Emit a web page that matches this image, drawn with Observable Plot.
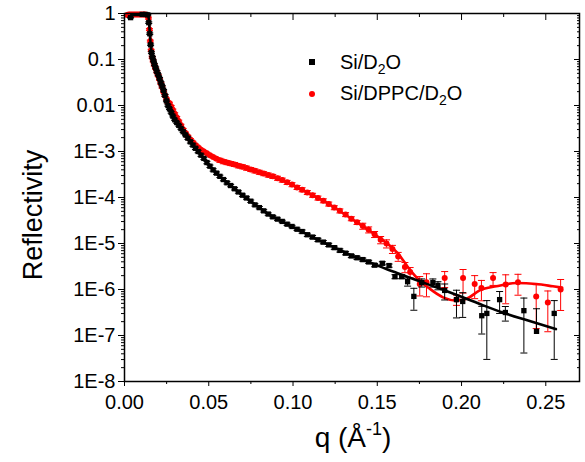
<!DOCTYPE html>
<html><head><meta charset="utf-8">
<script src="https://cdn.jsdelivr.net/npm/d3@7"></script>
<script src="https://cdn.jsdelivr.net/npm/@observablehq/plot@0.6"></script>
<style>body{margin:0;background:#fff} svg{display:block}</style>
</head><body><div id="chart"></div>
<script>
// ---- tick values / labels ----
const xMajor = [0, 0.05, 0.10, 0.15, 0.20, 0.25];
const xMinor = [0.025, 0.075, 0.125, 0.175, 0.225];
const yMajor = [1, 1e-1, 1e-2, 1e-3, 1e-4, 1e-5, 1e-6, 1e-7, 1e-8];
const yTickLabels = ["1", "0.1", "0.01", "1E-3", "1E-4", "1E-5", "1E-6", "1E-7", "1E-8"];
const yMinorMult = [2, 3, 4, 5, 6, 7, 8, 9];

// ---- Si/D2O data (q in 1/Å, log10 reflectivity, relative error) ----
const blackQ = [0.0036,0.0105,0.0125,0.0138,0.0144,0.0150,0.0155,0.0160,0.0166,0.0172,0.0178,0.0185,0.0192,0.0200,0.0208,0.0216,0.0224,0.0232,0.0240,0.0249,0.0258,0.0267,0.0277,0.0287,0.0298,0.0310,0.0322,0.0335,0.0348,0.0362,0.0376,0.0391,0.0406,0.0421,0.0437,0.0454,0.0471,0.0489,0.0507,0.0526,0.0546,0.0566,0.0587,0.0608,0.0630,0.0653,0.0676,0.0700,0.0724,0.0749,0.0774,0.0800,0.0826,0.0853,0.0880,0.0908,0.0936,0.0965,0.0994,0.1024,0.1054,0.1085,0.1116,0.1148,0.1180,0.1212,0.1245,0.1278,0.1312,0.1346,0.1380,0.1414,0.1449,0.1484,0.1530,0.1570,0.1605,0.1645,0.1680,0.1717,0.1764,0.1830,0.1860,0.1900,0.1970,0.2007,0.2120,0.2150,0.2226,0.2260,0.2370,0.2445,0.2550];
const blackLogR = [-0.09,-0.02,-0.02,-0.03,-0.2,-0.44,-0.68,-0.85,-0.95,-1.03,-1.11,-1.18,-1.26,-1.33,-1.41,-1.50,-1.58,-1.67,-1.78,-1.90,-2.0,-2.07,-2.15,-2.23,-2.31,-2.37,-2.43,-2.50,-2.57,-2.64,-2.71,-2.79,-2.86,-2.93,-3.0,-3.08,-3.15,-3.24,-3.32,-3.40,-3.47,-3.54,-3.61,-3.68,-3.74,-3.81,-3.88,-3.95,-4.01,-4.08,-4.16,-4.22,-4.29,-4.36,-4.42,-4.47,-4.52,-4.58,-4.63,-4.69,-4.74,-4.81,-4.86,-4.92,-4.97,-5.03,-5.09,-5.15,-5.21,-5.27,-5.31,-5.35,-5.40,-5.47,-5.43,-5.48,-5.72,-5.72,-5.83,-6.15,-5.85,-5.85,-5.91,-6.02,-6.22,-6.26,-6.57,-6.52,-6.22,-6.50,-6.46,-6.91,-6.52];
const blackErr = [0.02,0.02,0.02,0.02,
  0.04,0.04,0.04,0.04,0.04,0.04,0.04,0.04,0.04,0.04,0.04,0.04,0.04,0.04,0.04,0.04,0.04,0.04,0.04,0.04,0.04,0.04,0.04,0.04,0.04,0.04,
  0.06,0.06,0.06,0.06,0.06,0.06,0.06,0.06,0.06,0.06,0.06,0.06,0.06,0.06,0.06,0.06,0.06,0.06,0.06,0.06,0.06,0.06,0.06,0.06,0.06,0.06,0.06,0.06,0.06,0.06,
  0.08,0.08,0.08,0.08,0.08,0.08,0.08,0.08,0.08,0.08,0.08,0.08,0.08,0.08,0.08,0.08,
  0.1,0.1,0.2,0.5,0.2,0.2,0.2,0.38,0.6,0.55,0.6,0.9,0.5,0.35,0.88,2.1,0.9];
const blackFitQ = [0.004,0.013,0.0140,0.0145,0.0150,0.0155,0.016,0.017,0.0184,0.020,0.0213,0.023,0.0243,0.0258,0.0272,0.029,0.0314,0.0335,0.0362,0.0391,0.0421,0.0454,0.0489,0.0526,0.0566,0.0608,0.0653,0.070,0.0749,0.080,0.0853,0.0908,0.0965,0.1024,0.1085,0.1148,0.1212,0.1278,0.1346,0.1414,0.1484,0.155,0.1617,0.1735,0.187,0.2007,0.2125,0.2244,0.239,0.256];
const blackFitLogR = [-0.03,-0.03,-0.05,-0.14,-0.42,-0.66,-0.82,-1.0,-1.17,-1.33,-1.46,-1.65,-1.80,-1.97,-2.10,-2.24,-2.38,-2.50,-2.64,-2.79,-2.93,-3.08,-3.24,-3.40,-3.54,-3.68,-3.81,-3.95,-4.08,-4.22,-4.36,-4.47,-4.58,-4.69,-4.80,-4.92,-5.03,-5.14,-5.26,-5.36,-5.45,-5.55,-5.64,-5.80,-5.98,-6.17,-6.34,-6.5,-6.67,-6.86];

// ---- Si/DPPC/D2O data ----
const redQ = [0.0016,0.0025,0.0035,0.0045,0.0055,0.0065,0.0075,0.0085,0.0095,0.0105,0.0115,0.0125,0.0134,0.0142,0.0148,0.0153,0.0158,0.0164,0.0170,0.0177,0.0184,0.0192,0.0200,0.0208,0.0216,0.0223,0.0232,0.0240,0.0249,0.0258,0.0267,0.0277,0.0287,0.0298,0.0310,0.0322,0.0335,0.0348,0.0362,0.0376,0.0391,0.0406,0.0421,0.0437,0.0454,0.0471,0.0489,0.0507,0.0526,0.0546,0.0566,0.0587,0.0608,0.0630,0.0653,0.0676,0.0700,0.0724,0.0749,0.0774,0.0800,0.0826,0.0853,0.0880,0.0908,0.0936,0.0965,0.0994,0.1024,0.1054,0.1085,0.1116,0.1148,0.1180,0.1212,0.1245,0.1278,0.1312,0.1346,0.1380,0.1414,0.1449,0.1484,0.1520,0.1555,0.1590,0.1624,0.1664,0.1695,0.1752,0.1792,0.1900,0.1970,0.2009,0.2078,0.2118,0.2187,0.2262,0.2335,0.2443,0.2512,0.2588];
const redLogR = [-0.03,-0.02,-0.02,-0.02,-0.02,-0.02,-0.02,-0.02,-0.02,-0.02,-0.02,-0.02,-0.03,
  -0.1,-0.35,-0.6,-0.8,-0.95,-1.03,-1.12,-1.19,-1.27,-1.35,-1.43,-1.52,-1.60,-1.70,-1.78,-1.86,-1.93,-1.95,-2.02,-2.10,-2.18,-2.26,-2.34,-2.43,-2.52,-2.60,-2.67,-2.74,-2.80,-2.86,-2.91,-2.96,-3.0,-3.04,-3.08,-3.12,-3.16,-3.19,-3.22,-3.24,-3.26,-3.28,-3.31,-3.33,-3.36,-3.39,-3.42,-3.45,-3.48,-3.51,-3.54,-3.58,-3.62,-3.67,-3.72,-3.78,-3.83,-3.89,-3.95,-4.01,-4.07,-4.14,-4.22,-4.29,-4.37,-4.46,-4.54,-4.62,-4.70,-4.80,-4.92,-5.0,-5.12,-5.28,-5.51,-5.62,-5.88,-5.84,-5.75,-6.22,-5.75,-5.88,-5.97,-5.75,-5.89,-5.84,-6.15,-6.28,-6.0];
const redErr = [0.03,0.03,0.03,0.03,0.03,0.03,0.03,0.03,0.03,0.03,0.03,0.03,0.03,
  0.05,0.05,0.05,0.05,0.05,0.05,0.05,0.05,0.05,0.05,0.05,0.05,0.05,0.05,0.05,0.05,0.05,0.05,0.05,0.05,0.05,0.05,0.05,0.05,0.05,0.05,0.05,0.05,0.05,0.05,0.05,0.05,0.05,0.05,0.05,0.05,0.05,
  0.1,0.1,0.1,0.1,0.1,0.1,0.1,0.1,0.1,0.1,0.1,0.1,0.1,0.1,0.1,0.1,0.1,0.1,0.1,0.1,0.1,0.1,0.1,0.1,0.1,0.1,0.1,0.1,0.1,0.1,
  0.15,0.15,0.15,0.18,0.2,0.2,0.22,0.25,0.25,
  0.45,0.52,0.38,0.25,0.53,0.52,0.47,0.31,0.62,0.48,0.8,0.77,0.65];
const redFitQ = [0.002,0.0135,0.0142,0.0148,0.0155,0.016,0.017,0.0184,0.020,0.0223,0.025,0.0272,0.030,0.0325,0.0351,0.038,0.041,0.0469,0.0548,0.0647,0.0746,0.0845,0.0943,0.1022,0.1101,0.118,0.1259,0.1338,0.1417,0.1496,0.1575,0.1624,0.1664,0.170,0.175,0.181,0.189,0.197,0.203,0.2108,0.2207,0.2325,0.2443,0.2542,0.2597];
const redFitLogR = [-0.03,-0.03,-0.08,-0.3,-0.62,-0.8,-1.0,-1.17,-1.33,-1.58,-1.83,-2.0,-2.22,-2.40,-2.60,-2.74,-2.85,-3.01,-3.16,-3.28,-3.39,-3.50,-3.63,-3.77,-3.92,-4.07,-4.25,-4.44,-4.63,-4.83,-5.05,-5.22,-5.42,-5.60,-5.80,-5.98,-6.17,-6.24,-6.2,-6.02,-5.93,-5.86,-5.88,-5.93,-5.96];

// ---- build tables ----
const toRows = (Q, L, E) => Q.map((q, i) => {
  const r = Math.pow(10, L[i]); const d = r * E[i];
  return {q, r, hasLo: r - d > 0, lo: r - d > 0 ? r - d : r, hi: r + d};
});
const black = toRows(blackQ, blackLogR, blackErr);
const red = toRows(redQ, redLogR, redErr);
const blackFit = blackFitQ.map((q, i) => ({q, r: Math.pow(10, blackFitLogR[i])}));
const redFit = redFitQ.map((q, i) => ({q, r: Math.pow(10, redFitLogR[i])}));
const yMinor = [];
yMajor.slice(1).forEach(d => yMinorMult.forEach(m => yMinor.push(d * m)));

const capSym = {draw(ctx, size) { const w = Math.sqrt(size / Math.PI); ctx.moveTo(-w, 0); ctx.lineTo(w, 0); }};
const RED = "#ff0000";
const none = () => "";

function errMarks(rows, color) {
  return [
    Plot.ruleX(rows, {x: "q", y1: "lo", y2: "hi", stroke: color, strokeWidth: 1}),
    Plot.dot(rows, {x: "q", y: "hi", symbol: capSym, r: 3.5, stroke: color, strokeWidth: 1, fill: "none"}),
    Plot.dot(rows.filter(d => d.hasLo), {x: "q", y: "lo", symbol: capSym, r: 3.5, stroke: color, strokeWidth: 1, fill: "none"})
  ];
}

const chart = Plot.plot({
  width: 585, height: 462,
  marginLeft: 124, marginRight: 6, marginTop: 13, marginBottom: 81,
  style: {fontFamily: "'Liberation Sans', Arial, sans-serif", fontSize: "20px", color: "black", background: "white"},
  x: {domain: [0, 0.27]},
  y: {type: "log", domain: [1e-8, 1]},
  marks: [
    ...errMarks(red, RED),
    Plot.dot(red, {x: "q", y: "r", r: 3, fill: RED, stroke: "none"}),
    Plot.line(redFit, {x: "q", y: "r", stroke: RED, strokeWidth: 2.6, curve: "monotone-x"}),
    ...errMarks(black, "black"),
    Plot.dot(black, {x: "q", y: "r", symbol: "square", r: 3, fill: "black", stroke: "none"}),
    Plot.line(blackFit, {x: "q", y: "r", stroke: "black", strokeWidth: 2.6, curve: "monotone-x"}),
    Plot.axisX({anchor: "bottom", ticks: xMajor, tickSize: 5, tickPadding: 8, tickFormat: d3.format(".2f"), label: null, fontSize: 20}),
    Plot.axisX({anchor: "bottom", ticks: xMinor, tickSize: 3, tickFormat: none, label: null}),
    Plot.axisX({anchor: "top", ticks: xMajor, tickSize: -6, tickFormat: none, label: null}),
    Plot.axisX({anchor: "top", ticks: xMinor, tickSize: -3, tickFormat: none, label: null}),
    Plot.axisY({anchor: "left", ticks: yMajor, tickSize: 6, tickPadding: 3, tickFormat: (d, i) => yTickLabels[yMajor.indexOf(d)], label: null, fontSize: 20}),
    Plot.axisY({anchor: "left", ticks: yMinor, tickSize: 3, tickFormat: none, label: null}),
    Plot.axisY({anchor: "right", ticks: yMajor, tickSize: -6, tickFormat: none, label: null}),
    Plot.axisY({anchor: "right", ticks: yMinor, tickSize: -3, tickFormat: none, label: null}),
    Plot.frame({stroke: "black", strokeWidth: 1.5})
  ]
});
document.getElementById("chart").appendChild(chart);

// ---- labels and legend ----
const svg = d3.select(chart);
const font = "'Liberation Sans', Arial, sans-serif";
svg.append("text").attr("transform", "translate(42,215) rotate(-90)").attr("text-anchor", "middle")
  .attr("font-family", font).attr("font-size", 27).attr("fill", "black").text("Reflectivity");
const xl = svg.append("text").attr("x", 353).attr("y", 447).attr("text-anchor", "middle")
  .attr("font-family", font).attr("font-size", 28).attr("fill", "black");
xl.append("tspan").text("q (Å");
xl.append("tspan").attr("font-size", 18).attr("dy", -12).text("-1");
xl.append("tspan").attr("dy", 12).text(")");

const lg = svg.append("g").attr("font-family", font).attr("font-size", 20).attr("fill", "black").attr("text-anchor", "start");
lg.append("rect").attr("x", 309).attr("y", 59).attr("width", 6).attr("height", 6).attr("fill", "black");
lg.append("circle").attr("cx", 312).attr("cy", 94).attr("r", 3).attr("fill", RED);
const t1 = lg.append("text").attr("x", 340).attr("y", 69).attr("text-anchor", "start");
t1.append("tspan").text("Si/D");
t1.append("tspan").attr("font-size", 14).attr("dy", 5).text("2");
t1.append("tspan").attr("dy", -5).text("O");
const t2 = lg.append("text").attr("x", 340).attr("y", 100).attr("text-anchor", "start");
t2.append("tspan").text("Si/DPPC/D");
t2.append("tspan").attr("font-size", 14).attr("dy", 5).text("2");
t2.append("tspan").attr("dy", -5).text("O");
</script>
</body></html>
